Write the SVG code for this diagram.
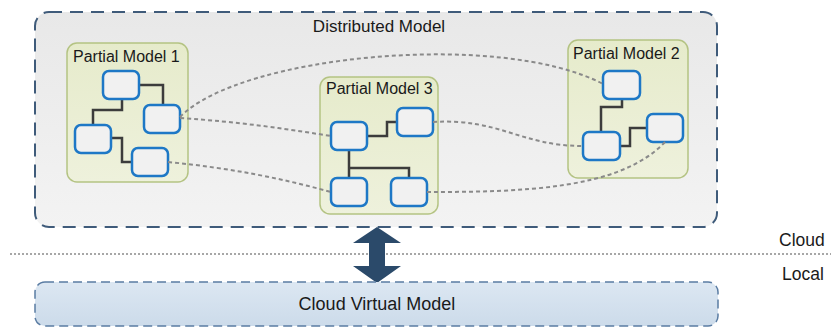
<svg xmlns="http://www.w3.org/2000/svg" width="831" height="328" viewBox="0 0 831 328">
  <defs>
    <linearGradient id="gOuter" x1="0" y1="0" x2="0" y2="1">
      <stop offset="0" stop-color="#e8e8e8"/>
      <stop offset="1" stop-color="#f3f3f3"/>
    </linearGradient>
    <linearGradient id="gPart" x1="0" y1="0" x2="0" y2="1">
      <stop offset="0" stop-color="#e6ebcb"/>
      <stop offset="1" stop-color="#eef1dc"/>
    </linearGradient>
    <linearGradient id="gCvm" x1="0" y1="0" x2="0" y2="1">
      <stop offset="0" stop-color="#dce7f2"/>
      <stop offset="1" stop-color="#ccdbea"/>
    </linearGradient>
  </defs>
  <style>
    text { font-family: "Liberation Sans", Arial, sans-serif; fill: #1a1a1a; }
    .outer { fill: url(#gOuter); stroke: #3f5b7a; stroke-width: 2; stroke-dasharray: 13 8; }
    .part { fill: url(#gPart); stroke: #b4c383; stroke-width: 1.5; }
    .node { fill: #f1f1f1; stroke: #1e78c6; stroke-width: 2.5; }
    .tree { fill: none; stroke: #3c3c3c; stroke-width: 2.5; }
    .link { fill: none; stroke: #8a8a8a; stroke-width: 2; stroke-dasharray: 4 3; }
    .sep { fill: none; stroke: #8a8a8a; stroke-width: 1.5; stroke-dasharray: 2 2; }
    .cvm { fill: url(#gCvm); stroke: #5a7ca3; stroke-width: 1.5; stroke-dasharray: 9 5; }
    .ptitle { font-size: 16px; }
  </style>

  <g id="distributed-model">
    <rect class="outer" x="35" y="12" width="682" height="215" rx="14"/>
    <text x="379" y="32" font-size="17" text-anchor="middle">Distributed Model</text>
  </g>

  <g id="partial-model-1">
    <rect class="part" x="67" y="43" width="121" height="139" rx="10"/>
    <text class="ptitle" x="73" y="62">Partial Model 1</text>
    <path class="tree" d="M139,85 H163 V105 M122,99 V110 H93 V125 M112,138 H122 V162 H132"/>
    <rect class="node" x="103" y="71" width="36" height="28" rx="6"/>
    <rect class="node" x="144" y="105" width="36" height="28" rx="6"/>
    <rect class="node" x="75" y="125" width="36" height="28" rx="6"/>
    <rect class="node" x="132" y="148" width="36" height="28" rx="6"/>
  </g>

  <g id="partial-model-3">
    <rect class="part" x="320" y="77" width="118" height="137" rx="10"/>
    <text class="ptitle" x="326" y="94">Partial Model 3</text>
    <path class="tree" d="M367,136 H387 V122 H397 M349,150 V178 M349,168 H409 V178"/>
    <rect class="node" x="331" y="122" width="36" height="28" rx="6"/>
    <rect class="node" x="397" y="108" width="36" height="28" rx="6"/>
    <rect class="node" x="331" y="178" width="36" height="28" rx="6"/>
    <rect class="node" x="391" y="178" width="36" height="28" rx="6"/>
  </g>

  <g id="partial-model-2">
    <rect class="part" x="568" y="40" width="120" height="138" rx="10"/>
    <text class="ptitle" x="573" y="59">Partial Model 2</text>
    <path class="tree" d="M622,99 V107 H601 V132 M620,146 H630 V128 H647"/>
    <rect class="node" x="603" y="71" width="37" height="28" rx="6"/>
    <rect class="node" x="583" y="132" width="37" height="28" rx="6"/>
    <rect class="node" x="647" y="114" width="36" height="28" rx="6"/>
  </g>

  <g id="connectors">
    <path class="link" d="M180,117 C240,55 500,30 603,84"/>
    <path class="link" d="M180,118 C240,122 280,128 331,136"/>
    <path class="link" d="M168,162 C230,168 280,178 331,192"/>
    <path class="link" d="M433,122 C500,118 520,146 583,146"/>
    <path class="link" d="M427,192 C520,192 620,190 665,142"/>
    <path class="sep" d="M10,254 H831"/>
    <polygon fill="#2b4a6a" points="377,227 401,243 385,243 385,266 401,266 377,283 353,266 369,266 369,243 353,243"/>
  </g>

  <g id="cloud-virtual-model">
    <rect class="cvm" x="35" y="282" width="683" height="44" rx="10"/>
    <text x="377" y="310" font-size="18" text-anchor="middle">Cloud Virtual Model</text>
  </g>

  <g id="labels">
    <text x="779" y="246" font-size="17.5">Cloud</text>
    <text x="782" y="280" font-size="17.5">Local</text>
  </g>
</svg>
